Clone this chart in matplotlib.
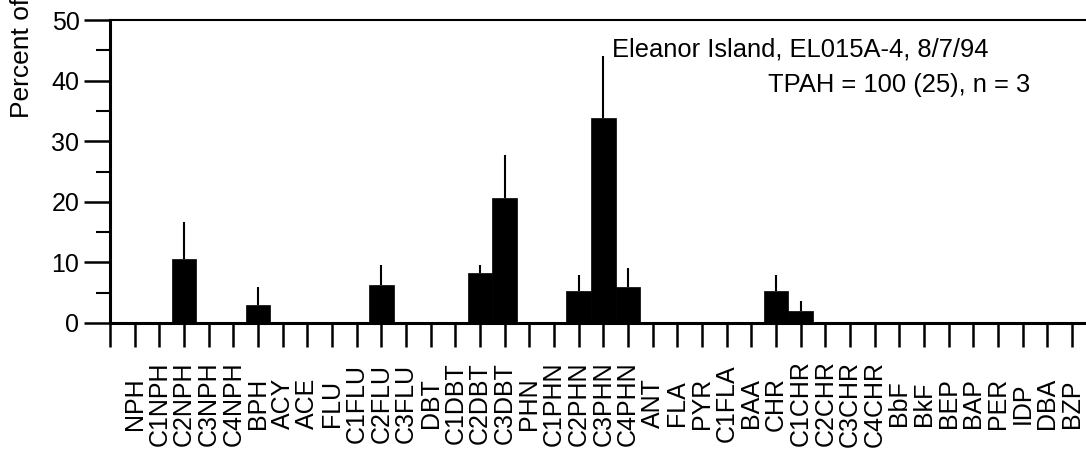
import matplotlib
matplotlib.use("Agg")
import matplotlib.pyplot as plt
import numpy as np

categories = ["NPH", "C1NPH", "C2NPH", "C3NPH", "C4NPH", "BPH", "ACY", "ACE", "FLU",
              "C1FLU", "C2FLU", "C3FLU", "DBT", "C1DBT", "C2DBT", "C3DBT", "PHN", "C1PHN",
              "C2PHN", "C3PHN", "C4PHN", "ANT", "FLA", "PYR", "C1FLA", "BAA", "CHR", "C1CHR",
              "C2CHR", "C3CHR", "C4CHR", "BbF", "BkF", "BEP", "BAP", "PER", "IDP", "DBA", "BZP"]
values = [0, 0, 10.5, 0, 0, 3.0, 0, 0, 0,
          0, 6.2, 0, 0, 0, 8.2, 20.7, 0, 0,
          5.2, 33.9, 5.9, 0, 0, 0, 0, 0, 5.2, 1.9,
          0, 0, 0, 0, 0, 0, 0, 0, 0, 0, 0]
upper_err = [0, 0, 6.1, 0, 0, 2.9, 0, 0, 0,
             0, 3.3, 0, 0, 0, 1.4, 7.0, 0, 0,
             2.7, 10.2, 3.1, 0, 0, 0, 0, 0, 2.8, 1.7,
             0, 0, 0, 0, 0, 0, 0, 0, 0, 0, 0]
yticks = [0, 10, 20, 30, 40, 50]
title_line1 = "Eleanor Island, EL015A-4, 8/7/94"
title_line2 = "TPAH = 100 (25), n = 3"
ylabel = "Percent of TPAH"

plt.rcParams['font.family'] = ['Liberation Sans', 'DejaVu Sans']

W, H = 1086, 459
fig = plt.figure(figsize=(W / 100, H / 100), dpi=100)
ax = fig.add_axes([110 / W, (H - 323) / H, (W - 110) / W, (323 - 20) / H])

x = np.arange(len(categories))
vals = np.array(values)
errs = np.array(upper_err)
ax.bar(x, vals, width=1.0, color='black', edgecolor='black', linewidth=0.5, zorder=2)
mask = errs > 0
ax.vlines(x[mask], vals[mask], vals[mask] + errs[mask], color='black', linewidth=1.5, zorder=3)

ax.set_xlim(-1, (W - 135) / 24.66)
ax.set_ylim(0, 50)

ax.set_yticks(yticks)
ax.set_yticklabels([str(t) for t in yticks], fontsize=18)
ax.set_yticks(np.arange(5, 50, 10), minor=True)
ax.tick_params(axis='y', which='major', direction='out', length=19, width=1.8, pad=3)
ax.tick_params(axis='y', which='minor', direction='out', length=10, width=1.5)

ax.set_xticks(np.concatenate([[-1], x]))
ax.set_xticklabels([''] + categories, rotation=90, fontsize=18, va='center', ha='center')
ax.tick_params(axis='x', which='major', direction='out', length=17, width=1.8, pad=41)

for side in ['left', 'bottom']:
    ax.spines[side].set_linewidth(2.2)
ax.spines['top'].set_linewidth(1.5)
ax.spines['right'].set_visible(False)

ax.text(612, H - 50, title_line1, transform=None, fontsize=18.4, ha='left', va='center')
ax.text(768, H - 85, title_line2, transform=None, fontsize=18.4, ha='left', va='center')

fig.text(22 / W, (H - 118) / H, ylabel, rotation=90, fontsize=19, ha='center', va='bottom')

fig.savefig("out.png", dpi=100)
